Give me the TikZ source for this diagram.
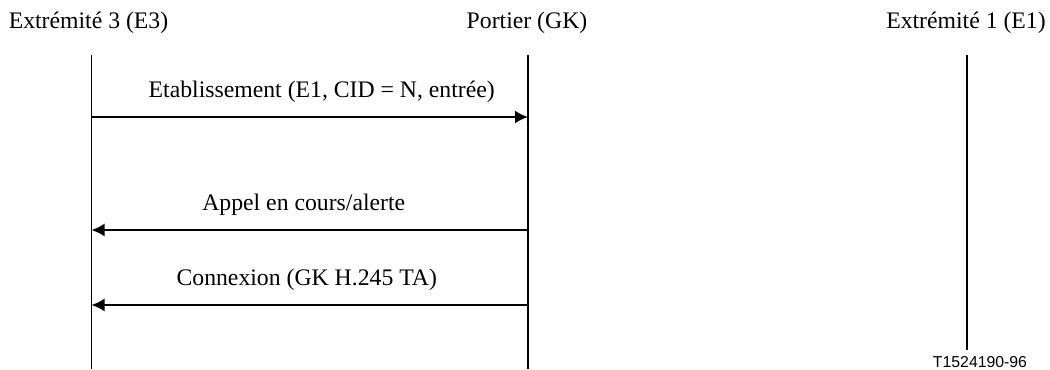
\documentclass[tikz,border=0pt]{standalone}
\usepackage{fontspec}
\setmainfont{Liberation Serif}
\newfontfamily\tagfont{Liberation Sans}
\usetikzlibrary{arrows.meta, positioning}

\begin{document}
\begin{tikzpicture}[
			entity/.style={font=\fontsize{13.5}{15}\selectfont, inner sep=0pt},
			lifeline/.style={line width=1.1pt},
			msg/.style={line width=1.1pt, -{Latex[length=2.6mm, width=2.6mm]}},
			msglabel/.style={font=\fontsize{13.5}{15}\selectfont, inner sep=0pt, midway, yshift=0.5cm},
			]
			\useasboundingbox (0,0) rectangle (21,-7.38);
			
			% entities
			\node[entity] (ep3) at (1.77,-0.46) {Extrémité 3 (E3)};
			\node[entity] (gk) at (10.54,-0.46) {Portier (GK)};
			\node[entity] (ep1) at (19.32,-0.46) {Extrémité 1 (E1)};
			
			% lifelines
			\coordinate (ep3top) at (1.83,-1.1);
			\coordinate (ep3bot) at (1.83,-7.38);
			\coordinate (gktop) at (10.56,-1.1);
			\coordinate (gkbot) at (10.56,-7.38);
			\coordinate (ep1top) at (19.34,-1.1);
			\coordinate (ep1bot) at (19.34,-7.0);
			\draw[lifeline] (ep3top) -- (ep3bot);
			\draw[lifeline] (gktop) -- (gkbot);
			\draw[lifeline] (ep1top) -- (ep1bot);
			
			% messages
			\coordinate (setupa) at (1.83,-2.34);
			\coordinate (setupb) at (10.56,-2.34);
			\coordinate (alerta) at (10.56,-4.6);
			\coordinate (alertb) at (1.83,-4.6);
			\coordinate (conna) at (10.56,-6.1);
			\coordinate (connb) at (1.83,-6.1);
			\draw[msg] (setupa) -- node[msglabel, xshift=0.24cm] (setup) {Etablissement (E1, CID = N, entrée)} (setupb);
			\draw[msg] (alerta) -- node[msglabel, xshift=-0.12cm] (alert) {Appel en cours/alerte} (alertb);
			\draw[msg] (conna) -- node[msglabel, xshift=-0.06cm] (conn) {Connexion (GK H.245 TA)} (connb);
			
			% figure tag
			\node[font=\tagfont\fontsize{9}{10}\selectfont, inner sep=0pt] (tag) at (19.6,-7.24) {T1524190-96};
		\end{tikzpicture}
\end{document}
